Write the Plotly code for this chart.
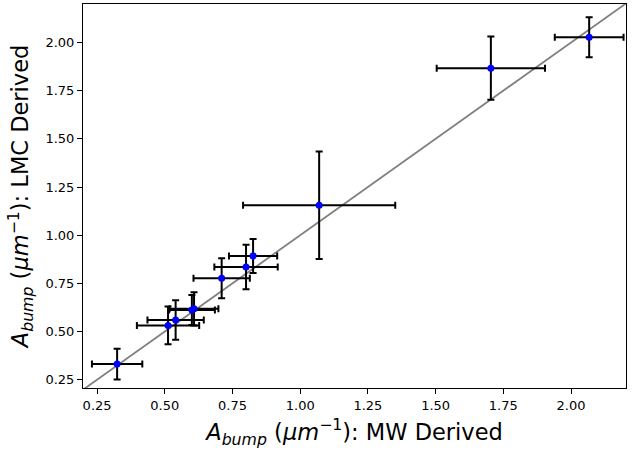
import plotly.graph_objects as go

# Bump amplitude values (um^-1)
mw_bump = [0.324, 0.512, 0.540, 0.600, 0.608, 0.710, 0.800, 0.826, 1.070, 1.704, 2.067]
mw_bump_err = [0.093, 0.115, 0.104, 0.085, 0.090, 0.104, 0.117, 0.089, 0.281, 0.200, 0.127]
lmc_bump = [0.331, 0.532, 0.560, 0.612, 0.618, 0.777, 0.835, 0.892, 1.156, 1.867, 2.027]
lmc_bump_err = [0.080, 0.098, 0.102, 0.078, 0.086, 0.104, 0.116, 0.088, 0.279, 0.164, 0.104]

axis_range_x = [0.198, 2.203]
axis_range_y = [0.207, 2.200]
tick_vals = [0.25, 0.50, 0.75, 1.00, 1.25, 1.50, 1.75, 2.00]
tick_text = ["0.25", "0.50", "0.75", "1.00", "1.25", "1.50", "1.75", "2.00"]

fig = go.Figure()

# one-to-one line
fig.add_trace(
    go.Scatter(
        x=axis_range_x,
        y=axis_range_x,
        mode="lines",
        line=dict(color="gray", width=1.8),
        showlegend=False,
        hoverinfo="skip",
    )
)

fig.add_trace(
    go.Scatter(
        x=mw_bump,
        y=lmc_bump,
        mode="markers",
        marker=dict(color="blue", size=7),
        error_x=dict(type="data", array=mw_bump_err, color="black", thickness=2, width=3.5),
        error_y=dict(type="data", array=lmc_bump_err, color="black", thickness=2, width=3.5),
        showlegend=False,
    )
)

axis_style = dict(
    showline=True,
    linecolor="black",
    linewidth=1,
    mirror=True,
    ticks="outside",
    ticklen=5,
    tickwidth=1,
    tickcolor="black",
    showgrid=False,
    zeroline=False,
    automargin=False,
    tickvals=tick_vals,
    ticktext=tick_text,
    tickfont=dict(family="DejaVu Sans", size=13, color="black"),
)

fig.update_xaxes(
    range=axis_range_x,
    title=dict(
        text="<i>A</i><sub><i>bump</i></sub> (<i>μm</i><sup>−1</sup>): MW Derived",
        font=dict(family="DejaVu Sans", size=22.5, color="black"),
        standoff=12,
    ),
    **axis_style,
)
fig.update_yaxes(
    range=axis_range_y,
    title=dict(
        text="<i>A</i><sub><i>bump</i></sub> (<i>μm</i><sup>−1</sup>): LMC Derived",
        font=dict(family="DejaVu Sans", size=22.5, color="black"),
        standoff=10,
    ),
    **axis_style,
)

fig.update_layout(
    width=633,
    height=454,
    margin=dict(l=83, r=7, t=4, b=66),
    plot_bgcolor="white",
    paper_bgcolor="white",
)

# drop the page's default body margin so the figure sits at the window corner
fig.write_html(
    "out.html",
    config={"displayModeBar": False},
    post_script="document.body.style.margin = '0';",
)
